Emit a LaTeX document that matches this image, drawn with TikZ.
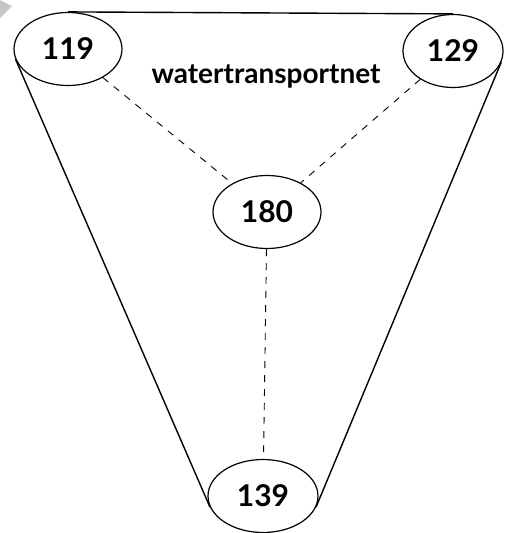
\documentclass[tikz,border=0pt]{standalone}
\usepackage{fontspec}
\setmainfont{Lato}
\usetikzlibrary{shapes.geometric}
\begin{document}
\begin{tikzpicture}[x=1pt,y=-1pt,
  city/.style={draw,ellipse,inner sep=0pt,minimum width=108pt,minimum height=73pt,font=\fontsize{30}{30}\selectfont\bfseries,line width=1.2pt},
  route/.style={line width=0.9pt,dash pattern=on 7pt off 7pt},
  rim/.style={line width=1.4pt}]
\useasboundingbox (0,0) rectangle (506,533);
\fill[gray!45] (0,0) -- (12,6) -- (0,18) -- cycle;
\node[city] (a) at (68,49) {119};
\node[city,minimum width=100pt] (b) at (453,51) {129};
\node[city] (c) at (267,212) {180};
\node[city,minimum width=110pt] (d) at (263,496) {139};
\node[font=\fontsize{28}{28}\selectfont\bfseries] (t) at (266,76) {watertransportnet};
\draw[rim] (a.north) -- (b.north);
\draw[rim] (a.191) -- (d.192);
\draw[rim] (b.-13) -- (d.-12);
\draw[route] (a) -- (c);
\draw[route] (b) -- (c);
\draw[route] (c) -- (d);
\end{tikzpicture}
\end{document}
